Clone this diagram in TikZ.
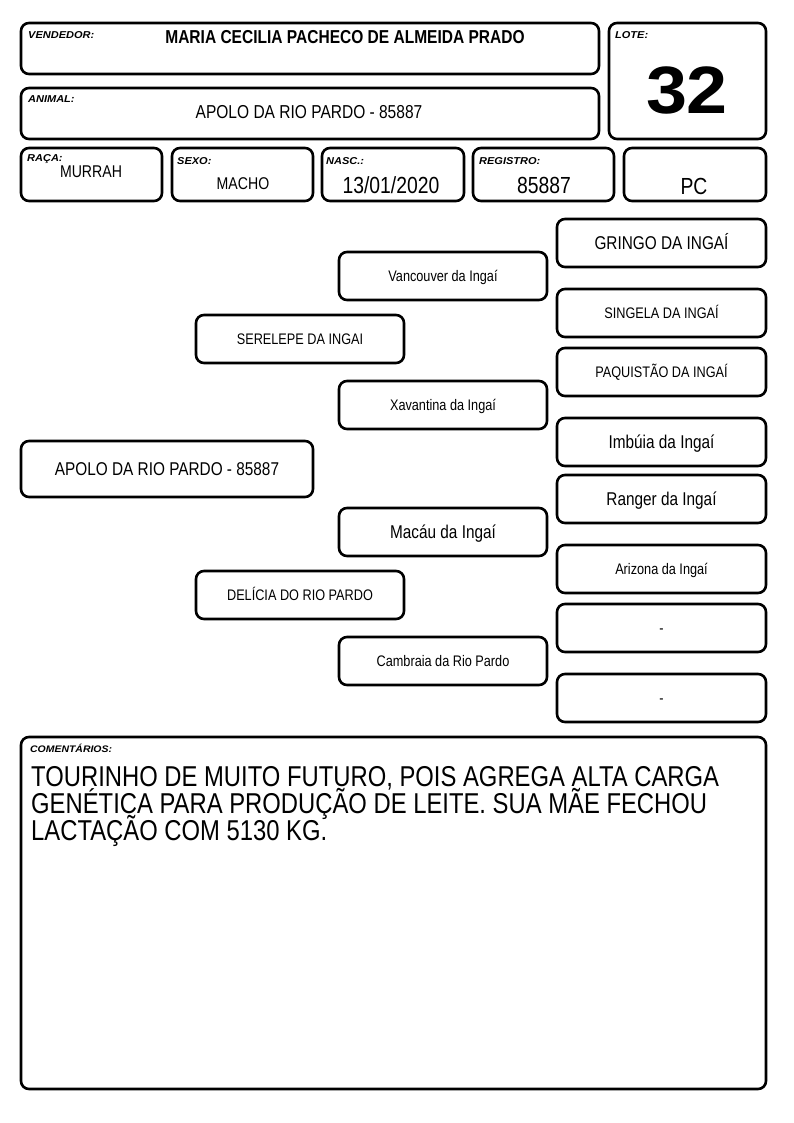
\documentclass[tikz,border=0pt]{standalone}
\usepackage{fontspec}
\setmainfont{Liberation Sans}
\newfontfamily\nar[FakeStretch=0.83]{Liberation Sans}
\newfontfamily\wid[FakeStretch=1.1]{Liberation Sans}
\tikzset{
 box/.style={draw, line width=2.6pt, rounded corners=8pt, inner sep=0pt, text depth=0pt},
 lab/.style={anchor=base west, inner sep=0pt, font=\wid\fontsize{10}{12}\selectfont\bfseries\itshape},
 big/.style={font=\nar\fontsize{18.5}{20}\selectfont, text height=13.3pt},
 small/.style={font=\nar\fontsize{15.3}{17}\selectfont, text height=11pt},
 val/.style={anchor=base, inner sep=0pt},
 com/.style={anchor=base west, inner sep=0pt, font=\nar\fontsize{28.7}{27}\selectfont}
}
\newcommand\pbox[7][]{\node[box,#1, minimum width={#4-#2}, minimum height={#5-#3}] (#6) at ({(#2+#4)/2},{(#3+#5)/2}) {#7};}
\begin{document}
\begin{tikzpicture}[x=1pt,y=-1pt]
\fill[white] (0,0) rectangle (794,1123);
\useasboundingbox (0,0) rectangle (794,1123);
% header
\pbox{21}{23}{599}{74}{vend}{}
\node[lab] (vendl) at (28,39) {VENDEDOR:};
\node[val, font=\nar\bfseries\fontsize{18.7}{20}\selectfont] (vendn) at (345,44) {MARIA CECILIA PACHECO DE ALMEIDA PRADO};
\pbox{21}{88}{599}{139}{anim}{}
\node[lab] (animl) at (28,103) {ANIMAL:};
\node[val, font=\nar\fontsize{18.7}{20}\selectfont] (animn) at (309,119) {APOLO DA RIO PARDO - 85887};
\pbox{609}{23}{766}{139}{lote}{}
\node[lab] (lotel) at (615,39) {LOTE:};
\node[val, font=\wid\bfseries\fontsize{67}{70}\selectfont] (loten) at (687,114) {32};
% row
\pbox{21}{148}{162}{201}{raca}{}
\pbox{172}{148}{313}{201}{sexo}{}
\pbox{322}{148}{464}{201}{nasc}{}
\pbox{473}{148}{614}{201}{reg}{}
\pbox{624}{148}{766}{201}{pc}{}
\node[lab] (racal) at (27,162) {RAÇA:};
\node[lab] (sexol) at (177,165) {SEXO:};
\node[lab] (nascl) at (326,165) {NASC.:};
\node[lab] (regl) at (479,165) {REGISTRO:};
\node[val, font=\nar\fontsize{17}{19}\selectfont] (racav) at (91,178) {MURRAH};
\node[val, font=\nar\fontsize{17}{19}\selectfont] (sexov) at (243,190) {MACHO};
\node[val, font=\nar\fontsize{23.3}{25}\selectfont] (nascv) at (391,194) {13/01/2020};
\node[val, font=\nar\fontsize{23.3}{25}\selectfont] (regv) at (544,194) {85887};
\node[val, font=\nar\fontsize{23.3}{25}\selectfont] (pcv) at (694,195) {PC};
% pedigree
\pbox[big]{21}{441}{313}{497}{apolo}{APOLO DA RIO PARDO - 85887}
\pbox[small]{196}{315}{404}{363}{serelepe}{SERELEPE DA INGAI}
\pbox[small]{196}{571}{404}{619}{delicia}{DELÍCIA DO RIO PARDO}
\pbox[small]{339}{252}{547}{300}{vancouver}{Vancouver da Ingaí}
\pbox[small]{339}{381}{547}{429}{xavantina}{Xavantina da Ingaí}
\pbox[big]{339}{508}{547}{556}{macau}{Macáu da Ingaí}
\pbox[small]{339}{637}{547}{685}{cambraia}{Cambraia da Rio Pardo}
\pbox[big]{557}{219}{766}{267}{gringo}{GRINGO DA INGAÍ}
\pbox[small]{557}{289}{766}{337}{singela}{SINGELA DA INGAÍ}
\pbox[small]{557}{348}{766}{396}{paquistao}{PAQUISTÃO DA INGAÍ}
\pbox[big]{557}{418}{766}{466}{imbuia}{Imbúia da Ingaí}
\pbox[big]{557}{475}{766}{523}{ranger}{Ranger da Ingaí}
\pbox[small]{557}{545}{766}{593}{arizona}{Arizona da Ingaí}
\pbox[small]{557}{604}{766}{652}{dash1}{-}
\pbox[small]{557}{674}{766}{722}{dash2}{-}
% comments
\pbox{21}{737}{766}{1089}{coment}{}
\node[lab, font=\wid\fontsize{9.5}{11}\selectfont\bfseries\itshape] (comentl) at (30,752) {COMENTÁRIOS:};
\node[com] (c1) at (31,786) {TOURINHO DE MUITO FUTURO, POIS AGREGA ALTA CARGA};
\node[com] (c2) at (31,813) {GENÉTICA PARA PRODUÇÃO DE LEITE. SUA MÃE FECHOU};
\node[com] (c3) at (31,840) {LACTAÇÃO COM 5130 KG.};
\end{tikzpicture}
\end{document}
